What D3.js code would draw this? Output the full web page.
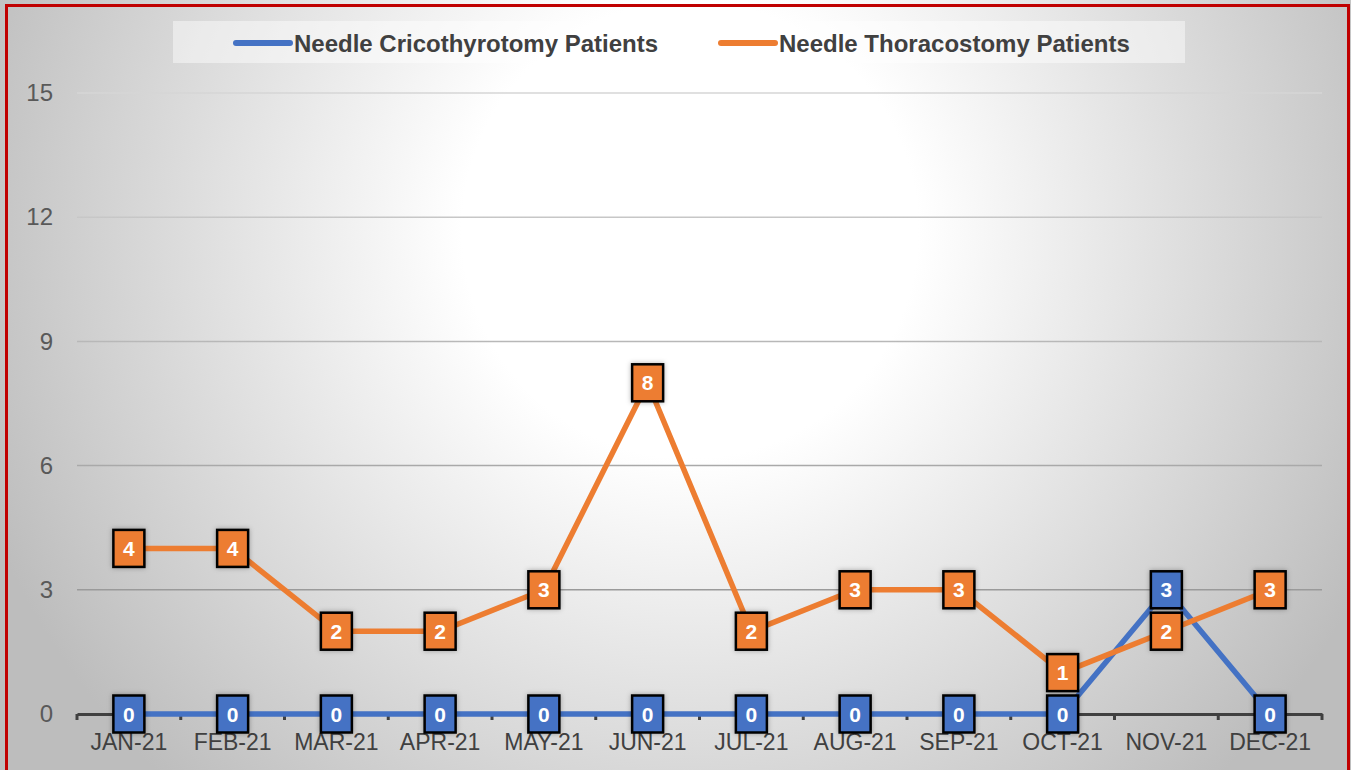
<!DOCTYPE html>
<html>
<head>
<meta charset="utf-8">
<script src="https://cdn.jsdelivr.net/npm/d3@7"></script>
<style>
  html, body { margin: 0; padding: 0; background: #ffffff; }
  svg { display: block; font-family: "Liberation Sans", Arial, sans-serif; }
</style>
</head>
<body>
<svg id="chart" width="1351" height="770"></svg>
<script>
// Monthly counts of needle procedures, 2021
const months = ["JAN-21", "FEB-21", "MAR-21", "APR-21", "MAY-21", "JUN-21",
                "JUL-21", "AUG-21", "SEP-21", "OCT-21", "NOV-21", "DEC-21"];
const cricothyrotomy = [0, 0, 0, 0, 0, 0, 0, 0, 0, 0, 3, 0];
const thoracostomy = [4, 4, 2, 2, 3, 8, 2, 3, 3, 1, 2, 3];
const yTicks = [0, 3, 6, 9, 12, 15];
const seriesNames = ["Needle Cricothyrotomy Patients", "Needle Thoracostomy Patients"];
const seriesColors = ["#4472C4", "#ED7D31"];

const W = 1351, H = 770;
const FONT = "'Liberation Sans', Arial, sans-serif";
const svg = d3.select("#chart");
const defs = svg.append("defs");

// Soft radial background
const bg = defs.append("radialGradient").attr("id", "bgGrad")
  .attr("gradientUnits", "userSpaceOnUse")
  .attr("cx", 690).attr("cy", 230).attr("r", 760);
bg.append("stop").attr("offset", "0%").attr("stop-color", "#ffffff");
bg.append("stop").attr("offset", "30%").attr("stop-color", "#ffffff");
bg.append("stop").attr("offset", "100%").attr("stop-color", "#bdbdbd");

// Gridline tone deepens toward the bottom
const gridGrad = defs.append("linearGradient").attr("id", "gridGrad")
  .attr("gradientUnits", "userSpaceOnUse")
  .attr("x1", 0).attr("y1", 90).attr("x2", 0).attr("y2", 720);
gridGrad.append("stop").attr("offset", "0%").attr("stop-color", "#d6d6d6");
gridGrad.append("stop").attr("offset", "100%").attr("stop-color", "#8a8a8a");

const shadow = defs.append("filter").attr("id", "labelShadow")
  .attr("x", "-40%").attr("y", "-40%").attr("width", "180%").attr("height", "180%");
shadow.append("feDropShadow").attr("dx", 0).attr("dy", 0)
  .attr("stdDeviation", 2.5).attr("flood-color", "#000000").attr("flood-opacity", 0.3);

svg.append("rect").attr("x", 0).attr("y", 0).attr("width", W).attr("height", H)
  .attr("fill", "url(#bgGrad)");

// Frame
svg.append("rect").attr("x", 6.5).attr("y", 5.5).attr("width", 1342).attr("height", 800)
  .attr("fill", "none").attr("stroke", "#c00000").attr("stroke-width", 3);

// Scales
const plotLeft = 77, plotRight = 1322;
const x = d3.scaleBand().domain(months).range([plotLeft, plotRight]).padding(0);
const y = d3.scaleLinear().domain([0, 15]).range([714, 93]);
const cx = d => x(d) + x.bandwidth() / 2;

// Gridlines
svg.append("g")
  .selectAll("line").data(yTicks.filter(t => t > 0)).join("line")
  .attr("x1", plotLeft).attr("x2", plotRight)
  .attr("y1", d => y(d)).attr("y2", d => y(d))
  .attr("stroke", "url(#gridGrad)").attr("stroke-width", 1.5);

// Y axis labels
const yAxis = svg.append("g").attr("transform", `translate(${plotLeft},0)`)
  .call(d3.axisLeft(y).tickValues(yTicks).tickSize(0).tickPadding(24));
yAxis.select(".domain").remove();
yAxis.selectAll("text").attr("font-size", 24).attr("fill", "#595959")
  .attr("font-family", FONT);

// X axis
const xAxis = svg.append("g").attr("transform", `translate(0,${y(0)})`)
  .call(d3.axisBottom(x).tickSize(0).tickPadding(20));
xAxis.select(".domain").attr("stroke", "#404040").attr("stroke-width", 3);
xAxis.selectAll("text").attr("font-size", 23).attr("fill", "#404040")
  .attr("font-family", FONT);
// boundary ticks
svg.append("g")
  .selectAll("line").data(d3.range(months.length + 1)).join("line")
  .attr("x1", i => plotLeft + i * x.bandwidth()).attr("x2", i => plotLeft + i * x.bandwidth())
  .attr("y1", y(0)).attr("y2", y(0) + 6)
  .attr("stroke", "#404040").attr("stroke-width", 3);

// Lines
const series = [cricothyrotomy, thoracostomy];
const lineGen = d3.line().x((d, i) => cx(months[i])).y(d => y(d));
series.forEach((vals, s) => {
  svg.append("path").datum(vals)
    .attr("d", lineGen)
    .attr("fill", "none")
    .attr("stroke", seriesColors[s])
    .attr("stroke-width", 5.5)
    .attr("stroke-linejoin", "round");
});

// Data labels
const boxW = 31, boxH = 37;
series.forEach((vals, s) => {
  const g = svg.append("g").selectAll("g").data(vals).join("g")
    .attr("transform", (d, i) => `translate(${cx(months[i])},${y(d)})`);
  g.append("rect")
    .attr("x", -boxW / 2).attr("y", -boxH / 2)
    .attr("width", boxW).attr("height", boxH)
    .attr("fill", seriesColors[s]).attr("stroke", "#000000").attr("stroke-width", 2.5)
    .attr("filter", "url(#labelShadow)");
  g.append("text")
    .attr("text-anchor", "middle").attr("dy", "0.36em")
    .attr("font-size", 21).attr("font-weight", "bold").attr("fill", "#ffffff")
    .attr("font-family", FONT)
    .text(d => d);
});

// Legend
const legend = svg.append("g");
legend.append("rect").attr("x", 173).attr("y", 21).attr("width", 1012).attr("height", 42)
  .attr("fill", "#ffffff").attr("fill-opacity", 0.45);
const legendX = [236, 721];
seriesNames.forEach((name, s) => {
  legend.append("line")
    .attr("x1", legendX[s]).attr("x2", legendX[s] + 54)
    .attr("y1", 43).attr("y2", 43)
    .attr("stroke", seriesColors[s]).attr("stroke-width", 6).attr("stroke-linecap", "round");
  legend.append("text")
    .attr("x", legendX[s] + 58).attr("y", 43).attr("dy", "0.36em")
    .attr("font-size", 24).attr("font-weight", "bold").attr("fill", "#404040")
    .attr("font-family", FONT)
    .text(name);
});
</script>
</body>
</html>
